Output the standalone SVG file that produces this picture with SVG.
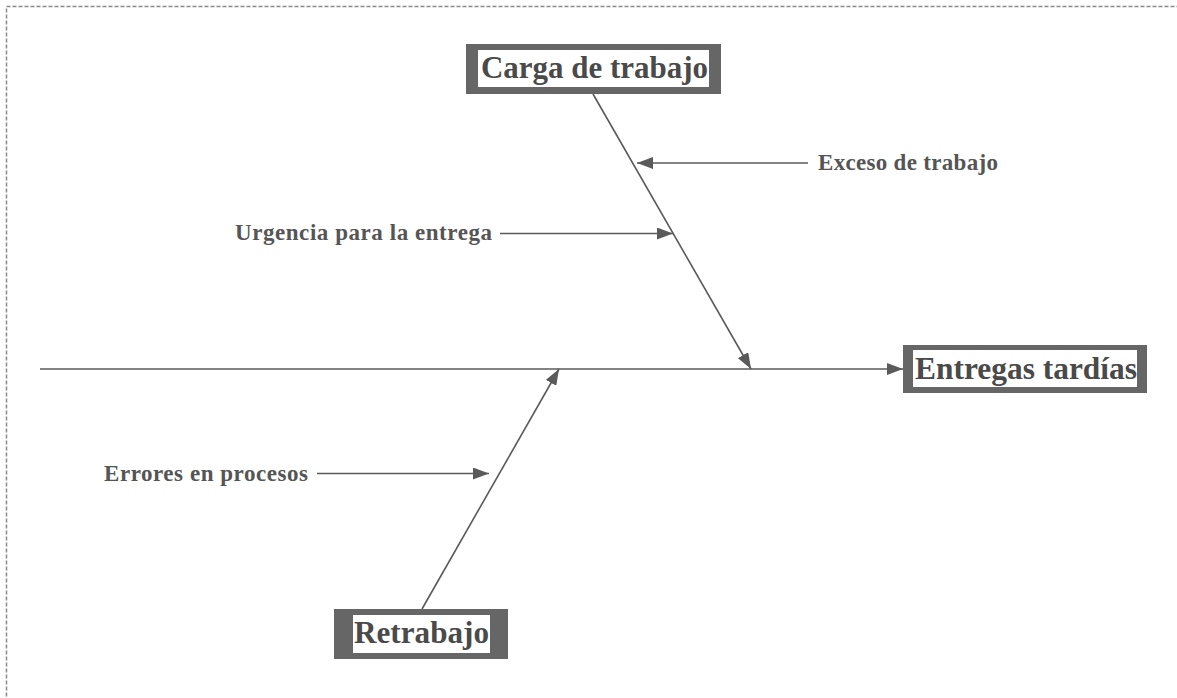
<svg xmlns="http://www.w3.org/2000/svg" width="1177" height="698" viewBox="0 0 1177 698">
<defs>
<style>
.big{font-family:"Liberation Serif","Times New Roman",serif;font-weight:bold;font-size:31px;fill:#4a4a4a}
.lbl{font-family:"Liberation Serif","Times New Roman",serif;font-weight:bold;font-size:23px;fill:#555}
.ln{stroke:#5a5a5a;stroke-width:1.6;fill:none}
.frame{fill:#666}
.inner{fill:#fff}
</style>
<marker id="ah" viewBox="0 0 16 12" refX="16" refY="6" markerWidth="16" markerHeight="12" markerUnits="userSpaceOnUse" orient="auto">
<path d="M0,0 L16,6 L0,12 Z" fill="#5a5a5a"/>
</marker>
</defs>
<rect x="6.5" y="6.5" width="1200" height="720" fill="none" stroke="#8a8a8a" stroke-width="1.5" stroke-dasharray="4,2"/>
<g id="connectors">
<line class="ln" x1="40" y1="369" x2="903" y2="369" marker-end="url(#ah)"/>
<line class="ln" x1="593" y1="94" x2="751" y2="369" marker-end="url(#ah)"/>
<line class="ln" x1="422" y1="609" x2="559" y2="369" marker-end="url(#ah)"/>
<line class="ln" x1="808" y1="163" x2="637" y2="163" marker-end="url(#ah)"/>
<line class="ln" x1="500" y1="233.5" x2="673" y2="233.5" marker-end="url(#ah)"/>
<line class="ln" x1="317" y1="473.5" x2="489" y2="473.5" marker-end="url(#ah)"/>
</g>
<g id="carga">
<rect class="frame" x="466" y="44" width="255" height="50"/>
<rect class="inner" x="478" y="50" width="231" height="37"/>
<text class="big" x="481" y="78" textLength="227" lengthAdjust="spacingAndGlyphs">Carga de trabajo</text>
</g>
<g id="entregas">
<rect class="frame" x="903" y="345" width="244" height="48"/>
<rect class="inner" x="913" y="350" width="224" height="37"/>
<text class="big" x="915" y="379" textLength="222" lengthAdjust="spacingAndGlyphs">Entregas tardías</text>
</g>
<g id="retrabajo">
<rect class="frame" x="334" y="609" width="174" height="50"/>
<rect class="inner" x="353" y="615" width="137" height="38"/>
<text class="big" x="354" y="643" textLength="135" lengthAdjust="spacingAndGlyphs">Retrabajo</text>
</g>
<g id="exceso">
<text class="lbl" x="818" y="169.5" textLength="180" lengthAdjust="spacing">Exceso de trabajo</text>
</g>
<g id="urgencia">
<text class="lbl" x="235" y="239.5" textLength="257" lengthAdjust="spacing">Urgencia para la entrega</text>
</g>
<g id="errores">
<text class="lbl" x="104" y="480.5" textLength="204" lengthAdjust="spacing">Errores en procesos</text>
</g>
</svg>
